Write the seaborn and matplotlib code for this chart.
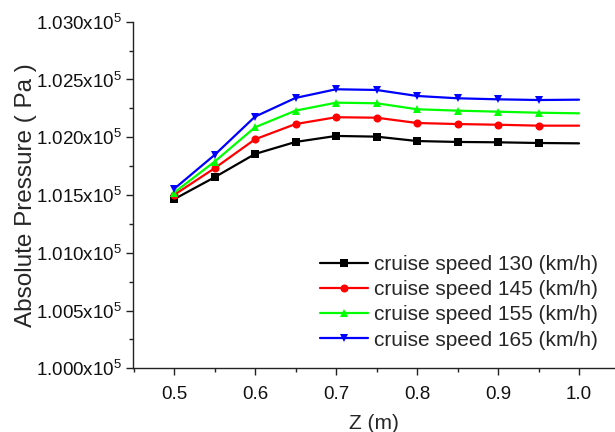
import numpy as np
import pandas as pd
import matplotlib
matplotlib.use("Agg")
import matplotlib.pyplot as plt
import seaborn as sns
from matplotlib.ticker import FuncFormatter, MultipleLocator

# data (pressure in units of 1e5 Pa)
z = [0.50, 0.55, 0.60, 0.65, 0.70, 0.75, 0.80, 0.85, 0.90, 0.95, 1.00]
p130 = [1.01463, 1.01653, 1.01855, 1.01959, 1.02011, 1.02005, 1.01967, 1.01959, 1.01956, 1.01950, 1.01947]
p145 = [1.01500, 1.01731, 1.01982, 1.02114, 1.02173, 1.02169, 1.02123, 1.02114, 1.02108, 1.02100, 1.02100]
p155 = [1.01520, 1.01788, 1.02086, 1.02230, 1.02299, 1.02294, 1.02242, 1.02230, 1.02221, 1.02212, 1.02207]
p165 = [1.01552, 1.01846, 1.02178, 1.02340, 1.02415, 1.02409, 1.02357, 1.02337, 1.02328, 1.02322, 1.02325]

labels = ["cruise speed 130 (km/h)", "cruise speed 145 (km/h)",
          "cruise speed 155 (km/h)", "cruise speed 165 (km/h)"]
colors = ["#000000", "#ff0000", "#00ff00", "#0000ff"]
marks = ["s", "o", "^", "v"]

rows = []
for lab, vals in zip(labels, [p130, p145, p155, p165]):
    for zz, v in zip(z, vals):
        rows.append({"Z": zz, "P": v * 1e5, "series": lab})
df = pd.DataFrame(rows)

sns.set_style("ticks")
plt.rcParams["font.family"] = ["Liberation Sans", "DejaVu Sans"]
plt.rcParams["mathtext.fontset"] = "custom"
plt.rcParams["mathtext.rm"] = "Liberation Sans"
plt.rcParams["mathtext.it"] = "Liberation Sans"

fig = plt.figure(figsize=(6.15, 4.32), dpi=100)
ax = fig.add_axes([0.2163, 0.1475, 0.7837, 0.8023])

sns.lineplot(data=df, x="Z", y="P", hue="series", style="series",
             palette=dict(zip(labels, colors)), markers=dict(zip(labels, marks)),
             dashes=False, linewidth=1.6, markersize=5.8, markeredgewidth=0,
             markevery=list(range(10)), ax=ax)

ax.set_xlim(0.4494, 1.0444)
ax.set_ylim(1.000e5, 1.030e5)
ax.xaxis.set_major_locator(MultipleLocator(0.1))
ax.xaxis.set_minor_locator(MultipleLocator(0.05))
ax.yaxis.set_major_locator(MultipleLocator(500))
ax.yaxis.set_minor_locator(MultipleLocator(250))
ax.xaxis.set_major_formatter(FuncFormatter(lambda v, p: f"{v:.1f}"))
ax.yaxis.set_major_formatter(FuncFormatter(lambda v, p: f"{v/1e5:.3f}x10$^5$"))
ax.tick_params(which="major", length=5, width=1, labelsize=13.5, colors="#222222", labelcolor="#111111")
ax.tick_params(which="minor", length=3, width=1, colors="#222222")
ax.tick_params(axis="x", which="major", pad=8)
ax.tick_params(axis="y", which="major", pad=3)
sns.despine(ax=ax)
for s in ["left", "bottom"]:
    ax.spines[s].set_linewidth(1)
    ax.spines[s].set_color("#222222")

ax.set_xlabel("Z (m)", fontsize=15, labelpad=8)
ax.set_ylabel("Absolute Pressure ( Pa )", fontsize=17.5, labelpad=-1)

ax.legend(loc="upper left", bbox_to_anchor=(0.388, 0.327), frameon=False,
          fontsize=15, handlelength=2.3, handletextpad=0.3, labelspacing=0.3,
          borderpad=0, borderaxespad=0)

fig.savefig("out.png", dpi=100)
